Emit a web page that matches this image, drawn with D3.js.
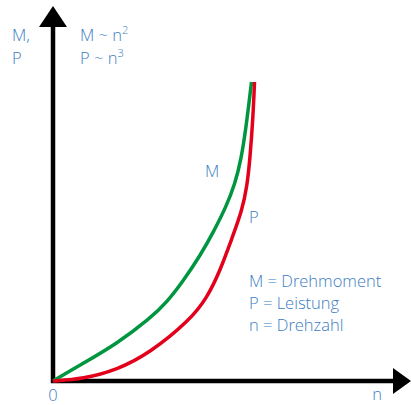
<!DOCTYPE html>
<html>
<head>
<meta charset="utf-8">
<script src="https://cdn.jsdelivr.net/npm/d3@7"></script>
<style>
  html, body { margin: 0; padding: 0; background: #fff; }
  svg { display: block; }
  text { font-family: "Open Sans", "Noto Sans", sans-serif; font-weight: 300; fill: #3a7dc2; }
</style>
</head>
<body>
<svg id="chart" width="411" height="405"></svg>
<script>
// Curve values (n and value both relative, 0..1)
const nM = [0, 0.15, 0.32, 0.485, 0.57, 0.65, 0.735, 0.805, 0.865, 0.91, 0.94, 0.965, 0.9925];
const mValues = [0, 0.0585, 0.125, 0.209, 0.264, 0.334, 0.418, 0.502, 0.582, 0.659, 0.739, 0.846, 1.0];
const nP = [0, 0.15, 0.32, 0.485, 0.685, 0.77, 0.835, 0.895, 0.945, 0.9715, 0.985, 1.0, 1.0075];
const pValues = [0, 0.007, 0.037, 0.094, 0.204, 0.278, 0.368, 0.478, 0.569, 0.656, 0.746, 0.880, 1.0];

const legendLines = ["M = Drehmoment", "P = Leistung", "n = Drehzahl"];
const formulaLines = [["M ~ n", "2"], ["P ~ n", "3"]];

const origin = { x: 53, y: 381 };

const svg = d3.select("#chart");

// Scales: 0 at the origin, 1 at the top of the curves
const xScale = d3.scaleLinear().domain([0, 1]).range([origin.x, 253]);
const yScale = d3.scaleLinear().domain([0, 1]).range([origin.y, 82]);

// Axes with arrow heads
const axisColor = "#000";
svg.append("line")
  .attr("x1", origin.x).attr("y1", origin.y + 2)
  .attr("x2", origin.x).attr("y2", 26)
  .attr("stroke", axisColor).attr("stroke-width", 4.5);
svg.append("polygon")
  .attr("points", `${origin.x - 14},27 ${origin.x + 14},27 ${origin.x},6`)
  .attr("fill", axisColor);

svg.append("line")
  .attr("x1", origin.x - 2).attr("y1", origin.y)
  .attr("x2", 394).attr("y2", origin.y)
  .attr("stroke", axisColor).attr("stroke-width", 4.5);
svg.append("polygon")
  .attr("points", `393,${origin.y - 13} 393,${origin.y + 13} 411,${origin.y}`)
  .attr("fill", axisColor);

// Curves
const line = d3.line()
  .x(d => xScale(d[0]))
  .y(d => yScale(d[1]))
  .curve(d3.curveBasis);

svg.append("path")
  .datum(d3.zip(nM, mValues))
  .attr("d", line)
  .attr("fill", "none")
  .attr("stroke", "#009640")
  .attr("stroke-width", 3.5);

svg.append("path")
  .datum(d3.zip(nP, pValues))
  .attr("d", line)
  .attr("fill", "none")
  .attr("stroke", "#e3001b")
  .attr("stroke-width", 3.5);

// Axis labels
svg.append("text").attr("x", 12).attr("y", 41).attr("font-size", 16.5).text("M,");
svg.append("text").attr("x", 12).attr("y", 64).attr("font-size", 16.5).text("P");
svg.append("text").attr("x", origin.x).attr("y", 401).attr("font-size", 16.5)
  .attr("text-anchor", "middle").text("0");
svg.append("text").attr("x", 377).attr("y", 400).attr("font-size", 16.5)
  .attr("text-anchor", "middle").text("n");

// Formulas with superscripts
formulaLines.forEach((f, i) => {
  const t = svg.append("text").attr("x", 80).attr("y", 41 + i * 23).attr("font-size", 16.5);
  t.append("tspan").text(f[0]);
  t.append("tspan").attr("dy", -7).attr("font-size", 11).text(f[1]);
});

// Curve labels
svg.append("text").attr("x", 205).attr("y", 177).attr("font-size", 16.5).text("M");
svg.append("text").attr("x", 249).attr("y", 223).attr("font-size", 16.5).text("P");

// Legend
legendLines.forEach((s, i) => {
  svg.append("text")
    .attr("x", 249).attr("y", 287 + i * 22)
    .attr("font-size", 16.5)
    .text(s);
});
</script>
</body>
</html>
